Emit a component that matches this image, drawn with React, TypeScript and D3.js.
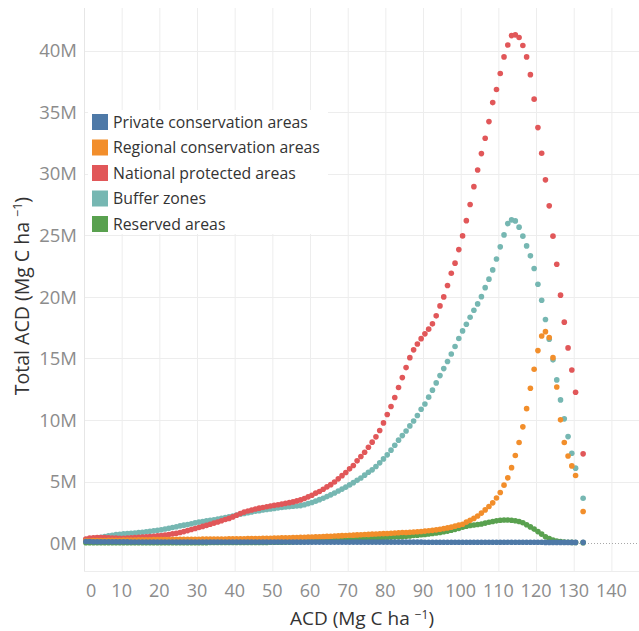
import React, {useEffect, useRef} from 'react';
import * as d3 from 'd3';

// ACD bins (Mg C ha-1), one dot per 1-unit bin, centred on the half unit
const acdBins = d3.range(0.5, 133, 1);

const seriesNames = ['Private conservation areas', 'Regional conservation areas', 'National protected areas', 'Buffer zones', 'Reserved areas'];
const seriesColors = ['#4e79a7', '#f28e2b', '#e15759', '#76b7b2', '#59a14f'];

// Total ACD per bin, millions
const privateAreas = [
    0.14, 0.14, 0.13, 0.13, 0.13, 0.12, 0.12, 0.12, 0.12, 0.12,
    0.12, 0.12, 0.11, 0.11, 0.11, 0.11, 0.11, 0.11, 0.11, 0.11,
    0.11, 0.11, 0.11, 0.11, 0.10, 0.10, 0.10, 0.10, 0.10, 0.10,
    0.10, 0.10, 0.10, 0.10, 0.10, 0.10, 0.10, 0.10, 0.10, 0.10,
    0.10, 0.10, 0.10, 0.10, 0.10, 0.10, 0.10, 0.10, 0.10, 0.10,
    0.10, 0.10, 0.10, 0.10, 0.10, 0.09, 0.09, 0.09, 0.09, 0.09,
    0.09, 0.09, 0.09, 0.09, 0.09, 0.09, 0.09, 0.09, 0.09, 0.09,
    0.09, 0.09, 0.09, 0.09, 0.09, 0.09, 0.09, 0.09, 0.09, 0.09,
    0.09, 0.09, 0.09, 0.09, 0.09, 0.09, 0.09, 0.09, 0.09, 0.09,
    0.08, 0.08, 0.08, 0.08, 0.08, 0.08, 0.08, 0.08, 0.08, 0.08,
    0.08, 0.08, 0.08, 0.08, 0.08, 0.08, 0.08, 0.08, 0.08, 0.08,
    0.08, 0.08, 0.08, 0.08, 0.08, 0.08, 0.08, 0.08, 0.08, 0.08,
    0.08, 0.08, 0.07, 0.07, 0.07, 0.07, 0.07, 0.07, 0.07, 0.07,
    0.07, null, 0.07
];
const regionalAreas = [
    0.20, 0.21, 0.22, 0.22, 0.23, 0.23, 0.24, 0.24, 0.25, 0.25,
    0.26, 0.26, 0.27, 0.27, 0.28, 0.28, 0.29, 0.29, 0.30, 0.30,
    0.30, 0.31, 0.31, 0.31, 0.32, 0.32, 0.32, 0.33, 0.33, 0.33,
    0.33, 0.34, 0.34, 0.34, 0.35, 0.35, 0.35, 0.35, 0.36, 0.36,
    0.36, 0.37, 0.37, 0.38, 0.38, 0.39, 0.39, 0.40, 0.41, 0.41,
    0.42, 0.43, 0.44, 0.44, 0.45, 0.46, 0.47, 0.48, 0.49, 0.50,
    0.51, 0.52, 0.53, 0.54, 0.56, 0.57, 0.59, 0.60, 0.62, 0.63,
    0.65, 0.66, 0.68, 0.69, 0.71, 0.72, 0.74, 0.75, 0.77, 0.78,
    0.80, 0.81, 0.83, 0.85, 0.87, 0.88, 0.90, 0.92, 0.94, 0.96,
    0.99, 1.02, 1.05, 1.09, 1.14, 1.19, 1.25, 1.31, 1.39, 1.47,
    1.55, 1.72, 1.86, 2.02, 2.22, 2.45, 2.71, 2.98, 3.28, 3.68,
    4.12, 4.72, 5.31, 6.14, 7.12, 8.18, 9.45, 10.93, 12.59, 14.13,
    15.64, 16.83, 17.18, 16.70, 15.07, 12.69, 10.02, 8.18, 7.09, 6.28,
    5.50, null, 2.58
];
const nationalAreas = [
    0.35, 0.42, 0.45, 0.46, 0.47, 0.46, 0.44, 0.43, 0.42, 0.41,
    0.41, 0.43, 0.45, 0.46, 0.48, 0.50, 0.53, 0.55, 0.57, 0.60,
    0.63, 0.67, 0.71, 0.76, 0.82, 0.88, 0.95, 1.03, 1.12, 1.20,
    1.28, 1.37, 1.45, 1.55, 1.64, 1.73, 1.83, 1.93, 2.02, 2.14,
    2.28, 2.42, 2.53, 2.62, 2.70, 2.78, 2.85, 2.91, 2.97, 3.03,
    3.08, 3.13, 3.18, 3.24, 3.30, 3.36, 3.44, 3.52, 3.63, 3.77,
    3.90, 4.07, 4.20, 4.39, 4.58, 4.76, 4.98, 5.23, 5.49, 5.74,
    6.04, 6.31, 6.69, 7.04, 7.39, 7.80, 8.21, 8.64, 9.15, 9.77,
    10.45, 11.10, 11.83, 12.64, 13.45, 14.26, 15.07, 15.70, 16.18, 16.61,
    17.00, 17.38, 17.81, 18.46, 19.27, 20.00, 20.92, 21.92, 22.74, 23.84,
    24.95, 26.19, 27.50, 28.95, 30.30, 31.63, 32.88, 34.23, 35.77, 36.83,
    38.13, 39.48, 40.45, 41.21, 41.27, 41.05, 40.40, 39.48, 38.04, 36.05,
    33.74, 31.66, 29.50, 27.39, 24.93, 22.65, 20.14, 17.95, 15.86, 14.07,
    12.26, null, 7.26
];
const bufferZones = [
    0.30, 0.35, 0.40, 0.44, 0.49, 0.54, 0.60, 0.65, 0.70, 0.73,
    0.76, 0.79, 0.82, 0.84, 0.87, 0.90, 0.93, 0.97, 1.01, 1.05,
    1.10, 1.16, 1.22, 1.28, 1.34, 1.41, 1.47, 1.53, 1.59, 1.66,
    1.72, 1.77, 1.82, 1.86, 1.91, 1.97, 2.03, 2.09, 2.15, 2.22,
    2.29, 2.36, 2.42, 2.48, 2.54, 2.60, 2.65, 2.70, 2.74, 2.79,
    2.83, 2.87, 2.91, 2.94, 2.97, 3.00, 3.03, 3.06, 3.13, 3.22,
    3.31, 3.42, 3.54, 3.66, 3.79, 3.93, 4.08, 4.24, 4.40, 4.56,
    4.74, 4.92, 5.11, 5.30, 5.53, 5.77, 5.96, 6.23, 6.53, 6.85,
    7.18, 7.56, 7.96, 8.37, 8.74, 9.12, 9.53, 9.93, 10.37, 10.88,
    11.31, 11.86, 12.43, 13.02, 13.61, 14.18, 14.75, 15.37, 15.97, 16.62,
    17.24, 17.78, 18.35, 18.92, 19.43, 20.02, 20.75, 21.44, 22.19, 23.08,
    24.06, 25.03, 25.95, 26.25, 26.17, 25.66, 24.93, 24.14, 23.33, 22.30,
    21.03, 19.73, 18.16, 16.57, 14.89, 13.26, 11.64, 10.10, 8.66, 7.31,
    6.10, null, 3.66
];
const reservedAreas = [
    0.05, 0.05, 0.04, 0.04, 0.04, 0.04, 0.04, 0.04, 0.04, 0.04,
    0.04, 0.04, 0.04, 0.04, 0.04, 0.05, 0.05, 0.05, 0.05, 0.05,
    0.05, 0.05, 0.05, 0.05, 0.05, 0.05, 0.05, 0.05, 0.05, 0.05,
    0.05, 0.05, 0.05, 0.06, 0.06, 0.06, 0.06, 0.06, 0.06, 0.06,
    0.06, 0.06, 0.06, 0.06, 0.07, 0.07, 0.07, 0.07, 0.07, 0.08,
    0.08, 0.08, 0.08, 0.09, 0.09, 0.10, 0.11, 0.12, 0.13, 0.14,
    0.15, 0.16, 0.17, 0.18, 0.20, 0.21, 0.22, 0.24, 0.25, 0.27,
    0.28, 0.30, 0.31, 0.33, 0.35, 0.37, 0.39, 0.41, 0.42, 0.44,
    0.46, 0.48, 0.50, 0.52, 0.54, 0.57, 0.60, 0.63, 0.66, 0.69,
    0.72, 0.75, 0.79, 0.83, 0.88, 0.93, 0.99, 1.06, 1.13, 1.21,
    1.30, 1.38, 1.44, 1.49, 1.52, 1.57, 1.64, 1.71, 1.77, 1.82,
    1.87, 1.89, 1.89, 1.87, 1.83, 1.77, 1.67, 1.50, 1.33, 1.15,
    0.95, 0.74, 0.53, 0.38, 0.27, 0.19, 0.14, 0.10, 0.08, 0.07,
    0.06, null, 0.05
];

const xTickValues = [0, 10, 20, 30, 40, 50, 60, 70, 80, 90, 100, 110, 120, 130, 140];
const yTickValues = [0, 5, 10, 15, 20, 25, 30, 35, 40];

const FONT = "'Open Sans', sans-serif";

export default function App() {
    const ref = useRef<SVGSVGElement>(null);

    useEffect(() => {
        const width = 639, height = 631;
        const plot = {left: 84, right: 639, top: 8, bottom: 571};

        const svg = d3.select(ref.current);
        svg.selectAll('*').remove();

        const x = d3.scaleLinear().domain([0, 147.2]).range([plot.left, plot.left + 147.2 * 3.767]);
        const y = d3.scaleLinear().domain([-2.25, 43.45]).range([plot.bottom, plot.top]);

        // grid
        const grid = svg.append('g');
        grid.selectAll('.vg').data(xTickValues.filter(d => d > 0)).enter().append('line')
            .attr('x1', d => x(d) + 0.5).attr('x2', d => x(d) + 0.5)
            .attr('y1', plot.top).attr('y2', plot.bottom)
            .attr('stroke', '#ededed');
        grid.selectAll('.hg').data(yTickValues.filter(d => d > 0)).enter().append('line')
            .attr('x1', plot.left).attr('x2', plot.right)
            .attr('y1', d => Math.round(y(d)) + 0.5).attr('y2', d => Math.round(y(d)) + 0.5)
            .attr('stroke', '#ededed');
        grid.append('line').attr('x1', plot.left + 0.5).attr('x2', plot.left + 0.5)
            .attr('y1', plot.top).attr('y2', plot.bottom).attr('stroke', '#e6e6e6');
        grid.append('line').attr('x1', plot.left).attr('x2', plot.right)
            .attr('y1', plot.bottom + 0.5).attr('y2', plot.bottom + 0.5).attr('stroke', '#ededed');
        grid.append('line').attr('x1', plot.left).attr('x2', plot.right)
            .attr('y1', Math.round(y(0)) + 0.5).attr('y2', Math.round(y(0)) + 0.5)
            .attr('stroke', '#a8a8a8').attr('stroke-dasharray', '1,2');

        // dots
        const seriesValues = [privateAreas, regionalAreas, nationalAreas, bufferZones, reservedAreas];
        const drawOrder = [4, 3, 2, 1, 0];
        drawOrder.forEach(si => {
            const pts = acdBins.map((a, i) => ({a, v: seriesValues[si][i]})).filter(p => p.v != null);
            svg.append('g').selectAll('circle').data(pts).enter().append('circle')
                .attr('cx', p => x(p.a))
                .attr('cy', p => y(p.v as number))
                .attr('r', 2.8)
                .attr('fill', seriesColors[si]);
        });

        // y axis labels
        svg.append('g').selectAll('text').data(yTickValues).enter().append('text')
            .attr('x', 77).attr('y', d => y(d)).attr('dy', '0.36em')
            .attr('text-anchor', 'end')
            .style('font-family', FONT).style('font-size', '18.5px').attr('fill', '#8c8c8c')
            .text(d => d + 'M');

        // x axis labels
        svg.append('g').selectAll('text').data(xTickValues).enter().append('text')
            .attr('x', d => d === 0 ? x(d) + 2 : x(d)).attr('y', 591).attr('dy', '0.36em')
            .attr('text-anchor', d => d === 0 ? 'start' : 'middle')
            .style('font-family', FONT).style('font-size', '18px').attr('fill', '#8c8c8c')
            .text(d => d);

        // axis titles
        const xt = svg.append('text').attr('x', 362).attr('y', 625).attr('text-anchor', 'middle')
            .style('font-family', FONT).style('font-size', '19px').attr('fill', '#333');
        xt.append('tspan').text('ACD (Mg C ha ');
        xt.append('tspan').attr('dy', -6).style('font-size', '12px').text('\u22121');
        xt.append('tspan').attr('dy', 6).text(')');

        const yt = svg.append('text').attr('transform', 'translate(29,296) rotate(-90)').attr('text-anchor', 'middle')
            .style('font-family', FONT).style('font-size', '19.5px').attr('fill', '#333');
        yt.append('tspan').text('Total ACD (Mg C ha ');
        yt.append('tspan').attr('dy', -7).style('font-size', '12.5px').text('\u22121');
        yt.append('tspan').attr('dy', 7).text(')');

        // legend
        const lg = svg.append('g');
        lg.append('rect').attr('x', 88).attr('y', 110).attr('width', 240).attr('height', 124).attr('fill', '#fff');
        seriesNames.forEach((name, i) => {
            const ly = 114 + i * 25.5;
            lg.append('rect').attr('x', 92).attr('y', ly).attr('width', 16).attr('height', 16)
                .attr('fill', seriesColors[i]);
            lg.append('text').attr('x', 113).attr('y', ly + 8).attr('dy', '0.36em')
                .style('font-family', FONT).style('font-size', '15.8px').attr('fill', '#333')
                .text(name);
        });

        svg.attr('width', width).attr('height', height);
    }, []);

    return (
        <svg ref={ref} width={639} height={631} style={{position: 'absolute', left: 0, top: 0, background: '#fff'}}/>
    );
}
